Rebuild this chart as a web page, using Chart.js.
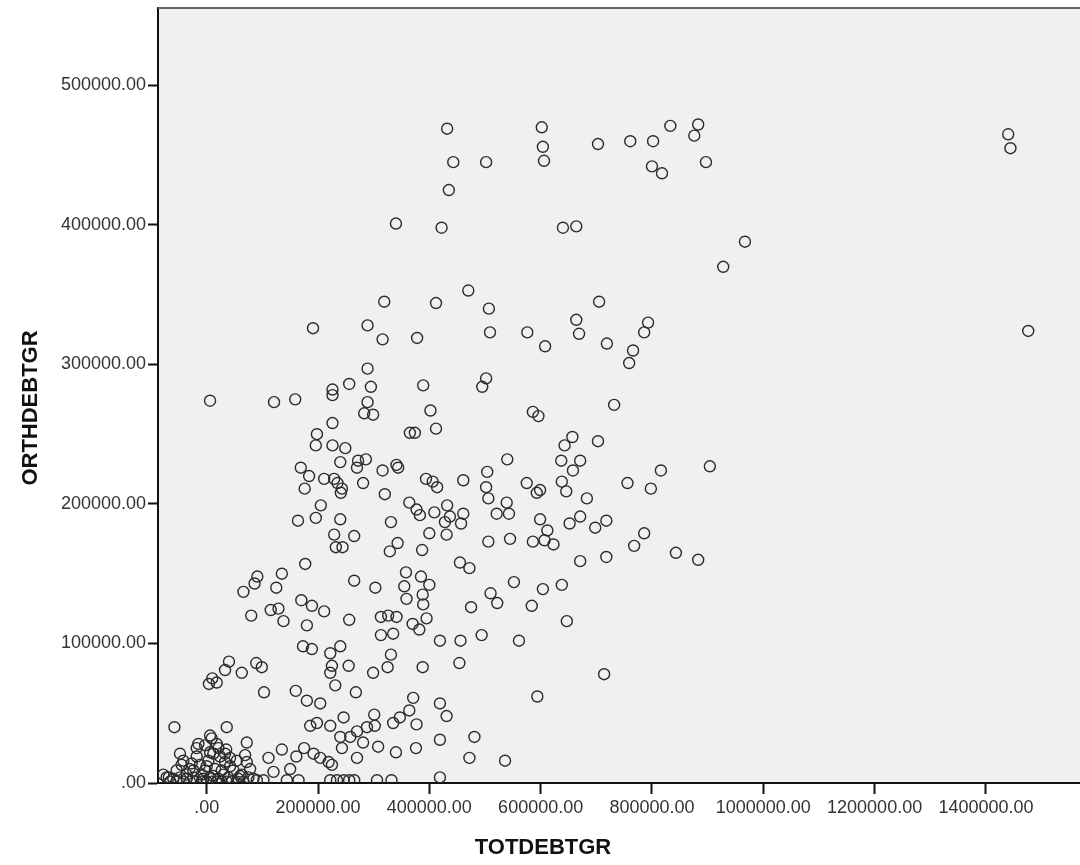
<!DOCTYPE html>
<html>
<head>
<meta charset="utf-8">
<script src="https://cdn.jsdelivr.net/npm/chart.js@4/dist/chart.umd.min.js"></script>
<style>
  body { margin: 0; background: #fff; overflow: hidden; }
</style>
</head>
<body>
<canvas id="canvas" width="1080" height="865"></canvas>
<script>
// TOTDEBTGR (x) and ORTHDEBTGR (y)
const totDebt = [
  432000,602000,604000,606000,443000,502000,435000,703000,761000,802000,833000,883000,
  876000,800000,818000,897000,422000,640000,664000,967000,928000,1440000,1444000,1476000,
  340000,470000,412000,319000,507000,509000,576000,608000,664000,669000,705000,719000,
  793000,786000,766000,759000,502000,495000,191000,289000,316000,378000,289000,256000,
  295000,389000,226000,732000,586000,596000,6000,121000,159000,226000,289000,283000,
  299000,402000,412000,365000,374000,226000,198000,196000,226000,249000,240000,272000,
  286000,169000,184000,176000,211000,229000,235000,243000,241000,270000,281000,316000,
  341000,344000,320000,394000,406000,414000,364000,377000,383000,409000,400000,432000,
  428000,431000,387000,331000,343000,329000,205000,196000,164000,240000,229000,265000,
  232000,244000,177000,265000,303000,358000,385000,400000,355000,359000,388000,389000,
  135000,91000,86000,66000,125000,170000,189000,211000,115000,129000,138000,80000,
  180000,256000,313000,326000,341000,313000,335000,370000,382000,395000,419000,331000,
  388000,173000,189000,222000,240000,255000,225000,40000,33000,89000,99000,63000,
  299000,325000,222000,10000,657000,643000,703000,637000,671000,658000,540000,504000,
  461000,502000,506000,575000,593000,599000,638000,646000,683000,816000,904000,756000,
  798000,461000,437000,457000,539000,521000,543000,599000,612000,607000,623000,586000,
  652000,671000,698000,718000,786000,768000,843000,883000,506000,545000,671000,718000,
  455000,472000,552000,510000,522000,604000,638000,475000,584000,647000,456000,494000,
  561000,454000,714000,594000,419000,431000,419000,481000,472000,536000,419000,231000,
  160000,180000,204000,268000,103000,4000,18000,-58000,36000,72000,69000,186000,
  198000,222000,246000,240000,258000,270000,288000,301000,302000,281000,308000,243000,
  270000,340000,376000,335000,347000,364000,371000,377000,111000,135000,161000,175000,
  150000,120000,192000,204000,219000,225000,102000,144000,165000,222000,234000,246000,
  256000,265000,306000,332000,6000,-15000,-3000,18000,35000,-48000,-42000,-54000,
  -31000,-18000,-12000,3000,12000,24000,33000,42000,54000,78000,72000,-72000,
  -78000,-66000,-54000,-42000,-30000,-18000,-9000,0,9000,18000,27000,36000,
  45000,54000,66000,-24000,-3000,15000,27000,48000,-18000,9000,33000,21000,
  -68000,-60000,-48000,-36000,-24000,-6000,6000,21000,39000,57000,75000,90000,
  -36000,-9000,12000,30000,60000,84000,-27000,0,42000,63000,-45000,6000
];
const orthDebt = [
  469000,470000,456000,446000,445000,445000,425000,458000,460000,460000,471000,472000,
  464000,442000,437000,445000,398000,398000,399000,388000,370000,465000,455000,324000,
  401000,353000,344000,345000,340000,323000,323000,313000,332000,322000,345000,315000,
  330000,323000,310000,301000,290000,284000,326000,328000,318000,319000,297000,286000,
  284000,285000,282000,271000,266000,263000,274000,273000,275000,278000,273000,265000,
  264000,267000,254000,251000,251000,258000,250000,242000,242000,240000,230000,231000,
  232000,226000,220000,211000,218000,218000,215000,211000,208000,226000,215000,224000,
  228000,226000,207000,218000,216000,212000,201000,196000,192000,194000,179000,199000,
  187000,178000,167000,187000,172000,166000,199000,190000,188000,189000,178000,177000,
  169000,169000,157000,145000,140000,151000,148000,142000,141000,132000,135000,128000,
  150000,148000,143000,137000,140000,131000,127000,123000,124000,125000,116000,120000,
  113000,117000,119000,120000,119000,106000,107000,114000,110000,118000,102000,92000,
  83000,98000,96000,93000,98000,84000,84000,87000,81000,86000,83000,79000,
  79000,83000,79000,75000,248000,242000,245000,231000,231000,224000,232000,223000,
  217000,212000,204000,215000,208000,210000,216000,209000,204000,224000,227000,215000,
  211000,193000,191000,186000,201000,193000,193000,189000,181000,174000,171000,173000,
  186000,191000,183000,188000,179000,170000,165000,160000,173000,175000,159000,162000,
  158000,154000,144000,136000,129000,139000,142000,126000,127000,116000,102000,106000,
  102000,86000,78000,62000,57000,48000,31000,33000,18000,16000,4000,70000,
  66000,59000,57000,65000,65000,71000,72000,40000,40000,29000,20000,41000,
  43000,41000,47000,33000,33000,37000,40000,49000,41000,29000,26000,25000,
  18000,22000,25000,43000,47000,52000,61000,42000,18000,24000,19000,25000,
  10000,8000,21000,18000,15000,13000,2000,2000,2000,2000,2000,2000,
  2000,2000,2000,2000,34000,28000,27000,28000,24000,21000,16000,9000,
  10000,19000,13000,16000,21000,19000,15000,18000,16000,10000,15000,4000,
  6000,1000,1000,1000,1000,1000,1000,1000,1000,1000,1000,1000,
  1000,1000,1000,9000,9000,10000,9000,9000,25000,32000,21000,25000,
  4000,3000,4000,3000,4000,3000,4000,3000,4000,3000,4000,2000,
  6000,6000,5000,6000,5000,3000,14000,12000,12000,6000,13000,22000
];

const xTicks = [0, 200000, 400000, 600000, 800000, 1000000, 1200000, 1400000];
const xTickLabels = ['.00', '200000.00', '400000.00', '600000.00', '800000.00', '1000000.00', '1200000.00', '1400000.00'];
const yTicks = [0, 100000, 200000, 300000, 400000, 500000];
const yTickLabels = ['.00', '100000.00', '200000.00', '300000.00', '400000.00', '500000.00'];
const xTitle = 'TOTDEBTGR';
const yTitle = 'ORTHDEBTGR';

const points = totDebt.map(function (x, i) {
  return { x: x, y: orthDebt[i] };
});

const tickFont = { family: "'Liberation Sans', Arial, sans-serif", size: 18 };

// grey plot area, top frame line and the two axis titles
const frame = {
  id: 'frame',
  beforeDraw: function (chart) {
    const a = chart.chartArea;
    const ctx = chart.ctx;
    ctx.save();
    ctx.fillStyle = '#f0f0f0';
    ctx.fillRect(a.left, a.top, a.right - a.left, a.bottom - a.top);
    ctx.restore();
  },
  afterDraw: function (chart) {
    const a = chart.chartArea;
    const ctx = chart.ctx;
    ctx.save();
    ctx.strokeStyle = '#666';
    ctx.lineWidth = 2;
    ctx.beginPath();
    ctx.moveTo(a.left, a.top);
    ctx.lineTo(a.right, a.top);
    ctx.stroke();

    ctx.fillStyle = '#111';
    ctx.font = "bold 22px 'Liberation Sans', Arial, sans-serif";
    ctx.textAlign = 'center';
    ctx.textBaseline = 'middle';
    ctx.fillText(xTitle, 543, 848);
    ctx.translate(31, 408);
    ctx.rotate(-Math.PI / 2);
    ctx.fillText(yTitle, 0, 0);
    ctx.restore();
  }
};

const ctx = document.getElementById('canvas').getContext('2d');
const myChart = new Chart(ctx, {
  type: 'scatter',
  data: {
    datasets: [{
      data: points,
      pointRadius: 5.5,
      pointHoverRadius: 5.5,
      pointBorderWidth: 1.4,
      borderColor: '#2b2b2b',
      backgroundColor: 'rgba(0,0,0,0)',
      clip: 0
    }]
  },
  options: {
    responsive: false,
    animation: false,
    events: [],
    layout: { autoPadding: false, padding: { top: 8, right: 0, left: 0, bottom: 0 } },
    scales: {
      x: {
        type: 'linear',
        min: -87500,
        max: 1569000,
        afterBuildTicks: function (s) {
          s.ticks = xTicks.map(function (v) { return { value: v }; });
        },
        afterFit: function (s) {
          s.height = 82;
          s.paddingLeft = 0;
          s.paddingRight = 0;
        },
        ticks: {
          callback: function (v) { return xTickLabels[xTicks.indexOf(v)]; },
          font: tickFont,
          color: '#333',
          padding: 3,
          maxRotation: 0,
          autoSkip: false
        },
        grid: { drawOnChartArea: false, tickLength: 11, tickWidth: 2, tickColor: '#111' },
        border: { color: '#111', width: 2 }
      },
      y: {
        type: 'linear',
        min: 0,
        max: 555500,
        afterBuildTicks: function (s) {
          s.ticks = yTicks.map(function (v) { return { value: v }; });
        },
        afterFit: function (s) {
          s.width = 158;
          s.paddingTop = 0;
          s.paddingBottom = 0;
        },
        ticks: {
          callback: function (v) { return yTickLabels[yTicks.indexOf(v)]; },
          font: tickFont,
          color: '#333',
          padding: 2,
          autoSkip: false
        },
        grid: { drawOnChartArea: false, tickLength: 10, tickWidth: 2, tickColor: '#111' },
        border: { color: '#111', width: 2 }
      }
    },
    plugins: {
      legend: { display: false },
      tooltip: { enabled: false }
    }
  },
  plugins: [frame]
});
</script>
</body>
</html>
